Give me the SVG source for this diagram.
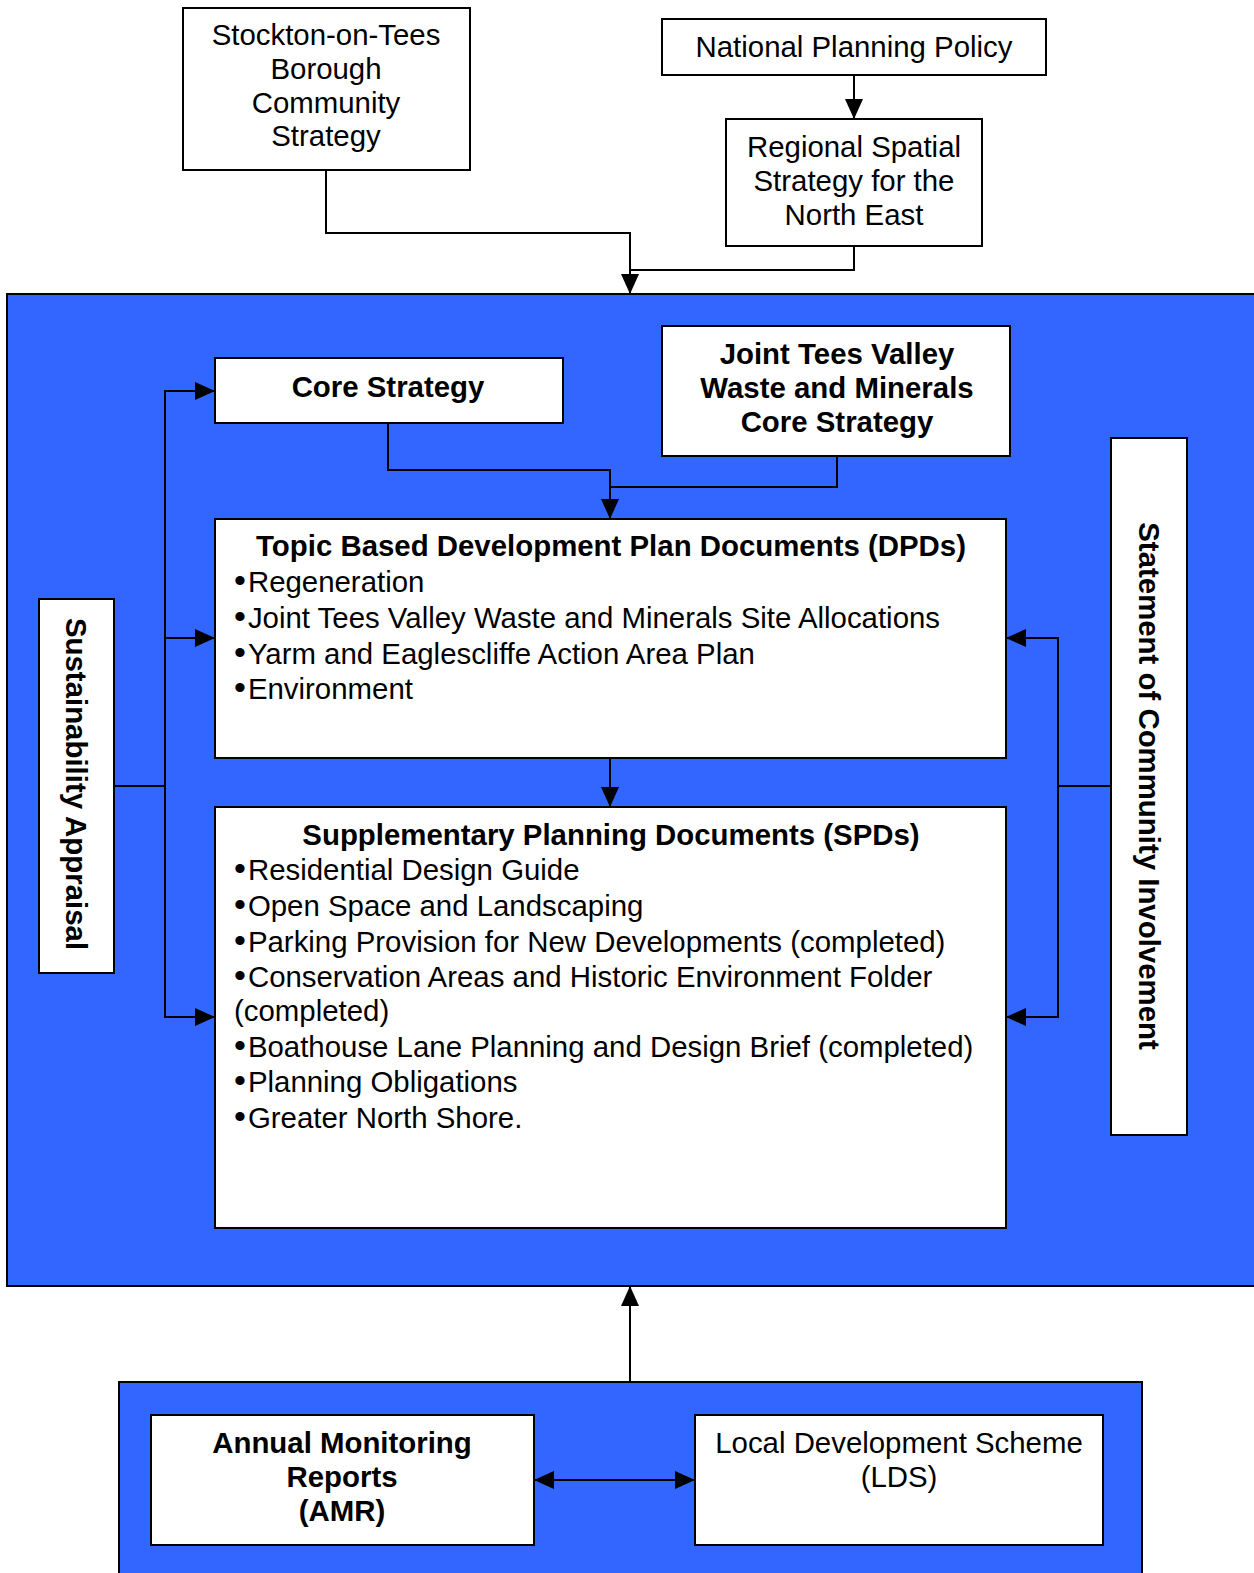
<svg xmlns="http://www.w3.org/2000/svg" width="1254" height="1573" viewBox="0 0 1254 1573">
<style>
.box{fill:#fff;stroke:#000;stroke-width:2}
.blue{fill:#3366FF;stroke:#000;stroke-width:2}
.t{font-family:"Liberation Sans",Arial,sans-serif;font-size:29.4px;fill:#000}
.c{text-anchor:middle}
.b{font-weight:bold}
.bu{font-size:34px}
.ln{fill:none;stroke:#000;stroke-width:2}
</style>
<defs>
<marker id="ah" markerWidth="20" markerHeight="18" refX="20" refY="9" orient="auto" markerUnits="userSpaceOnUse">
<path d="M0,0 L20,9 L0,18 Z" fill="#000"/>
</marker>
<marker id="ahs" markerWidth="20" markerHeight="18" refX="0" refY="9" orient="auto" markerUnits="userSpaceOnUse">
<path d="M20,0 L0,9 L20,18 Z" fill="#000"/>
</marker>
</defs>
<rect width="1254" height="1573" fill="#fff"/>
<g id="main-area"><rect class="blue" x="7" y="294" width="1260" height="992"/></g>
<g id="monitor-area"><rect class="blue" x="119" y="1382" width="1023" height="200"/></g>

<g id="stockton"><rect class="box" x="183" y="8" width="287" height="162"/>
<text class="t c" x="326" y="45">Stockton-on-Tees</text>
<text class="t c" x="326" y="79">Borough</text>
<text class="t c" x="326" y="113">Community</text>
<text class="t c" x="326" y="146">Strategy</text></g>

<g id="npp"><rect class="box" x="662" y="19" width="384" height="56"/>
<text class="t c" x="854" y="57">National Planning Policy</text></g>

<g id="rss"><rect class="box" x="726" y="119" width="256" height="127"/>
<text class="t c" x="854" y="157">Regional Spatial</text>
<text class="t c" x="854" y="191">Strategy for the</text>
<text class="t c" x="854" y="225">North East</text></g>

<g id="core"><rect class="box" x="215" y="358" width="348" height="65"/>
<text class="t c b" x="388" y="397">Core Strategy</text></g>

<g id="joint"><rect class="box" x="662" y="326" width="348" height="130"/>
<text class="t c b" x="837" y="364">Joint Tees Valley</text>
<text class="t c b" x="837" y="398">Waste and Minerals</text>
<text class="t c b" x="837" y="432">Core Strategy</text></g>

<g id="dpd"><rect class="box" x="215" y="519" width="791" height="239"/>
<text class="t c b" x="611" y="556">Topic Based Development Plan Documents (DPDs)</text>
<text class="t" x="234" y="592"><tspan class="bu">•</tspan><tspan dx="2">Regeneration</tspan></text>
<text class="t" x="234" y="628"><tspan class="bu">•</tspan><tspan dx="2">Joint Tees Valley Waste and Minerals Site Allocations</tspan></text>
<text class="t" x="234" y="664"><tspan class="bu">•</tspan><tspan dx="2">Yarm and Eaglescliffe Action Area Plan</tspan></text>
<text class="t" x="234" y="699"><tspan class="bu">•</tspan><tspan dx="2">Environment</tspan></text></g>

<g id="spd"><rect class="box" x="215" y="807" width="791" height="421"/>
<text class="t c b" x="611" y="845">Supplementary Planning Documents (SPDs)</text>
<text class="t" x="234" y="880"><tspan class="bu">•</tspan><tspan dx="2">Residential Design Guide</tspan></text>
<text class="t" x="234" y="916"><tspan class="bu">•</tspan><tspan dx="2">Open Space and Landscaping</tspan></text>
<text class="t" x="234" y="952"><tspan class="bu">•</tspan><tspan dx="2">Parking Provision for New Developments (completed)</tspan></text>
<text class="t" x="234" y="987"><tspan class="bu">•</tspan><tspan dx="2">Conservation Areas and Historic Environment Folder</tspan></text>
<text class="t" x="234" y="1021">(completed)</text>
<text class="t" x="234" y="1057"><tspan class="bu">•</tspan><tspan dx="2">Boathouse Lane Planning and Design Brief (completed)</tspan></text>
<text class="t" x="234" y="1092"><tspan class="bu">•</tspan><tspan dx="2">Planning Obligations</tspan></text>
<text class="t" x="234" y="1128"><tspan class="bu">•</tspan><tspan dx="2">Greater North Shore.</tspan></text></g>

<g id="sa"><rect class="box" x="39" y="599" width="75" height="374"/>
<text class="t c b" transform="translate(66,784) rotate(90)" x="0" y="0">Sustainability Appraisal</text></g>

<g id="sci"><rect class="box" x="1111" y="438" width="76" height="697"/>
<text class="t c b" transform="translate(1139,786) rotate(90)" x="0" y="0">Statement of Community Involvement</text></g>

<g id="amr"><rect class="box" x="151" y="1415" width="383" height="130"/>
<text class="t c b" x="342" y="1453">Annual Monitoring</text>
<text class="t c b" x="342" y="1487">Reports</text>
<text class="t c b" x="342" y="1521">(AMR)</text></g>

<g id="lds"><rect class="box" x="695" y="1415" width="408" height="130"/>
<text class="t c" x="899" y="1453">Local Development Scheme</text>
<text class="t c" x="899" y="1487">(LDS)</text></g>

<g id="connectors">
<polyline class="ln" points="326,170 326,233 630,233 630,294" marker-end="url(#ah)"/>
<polyline class="ln" points="854,246 854,270 630,270"/>
<polyline class="ln" points="854,75 854,119" marker-end="url(#ah)"/>
<polyline class="ln" points="388,423 388,470 610,470 610,519" marker-end="url(#ah)"/>
<polyline class="ln" points="837,456 837,487 610,487"/>
<polyline class="ln" points="610,758 610,807" marker-end="url(#ah)"/>
<polyline class="ln" points="114,786 165,786"/>
<polyline class="ln" points="215,391 165,391 165,1017 215,1017" marker-start="url(#ahs)" marker-end="url(#ah)"/>
<polyline class="ln" points="165,638 215,638" marker-end="url(#ah)"/>
<polyline class="ln" points="1111,786 1058,786"/>
<polyline class="ln" points="1006,638 1058,638 1058,1017 1006,1017" marker-start="url(#ahs)" marker-end="url(#ah)"/>
<polyline class="ln" points="630,1382 630,1286" marker-end="url(#ah)"/>
<polyline class="ln" points="534,1480 695,1480" marker-start="url(#ahs)" marker-end="url(#ah)"/>
</g>
</svg>
